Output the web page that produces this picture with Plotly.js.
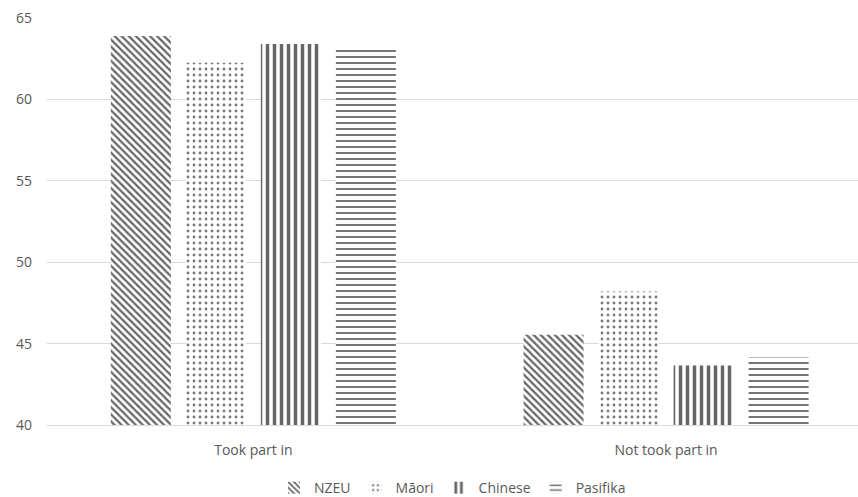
<!DOCTYPE html>
<html><head><meta charset="utf-8">
<script src="https://cdn.plot.ly/plotly-3.0.1.min.js"></script>
<style>body{margin:0;background:#fff}#chart{width:858px;height:497px}</style>
</head><body><div id="chart"></div>
<script>
const categories = ["Took part in", "Not took part in"];
const seriesNames = ["NZEU", "Māori", "Chinese", "Pasifika"];
const nzeu = [63.9, 45.55];
const maori = [62.25, 48.2];
const chinese = [63.4, 43.65];
const pasifika = [63.05, 44.15];
const yTicks = [40, 45, 50, 55, 60, 65];

const values = [nzeu, maori, chinese, pasifika];
const shapes = ["\\", ".", "|", "-"];
const sizes = [5, 6, 7, 6];
const solid = [0.45, 0.18, 0.5, 0.3];
const fg = ["#666666", "#7a7a7a", "#666666", "#666666"];

const traces = seriesNames.map((n, i) => ({
  type: "bar",
  name: n,
  x: categories,
  y: values[i],
  base: 0,
  marker: {
    color: "#ffffff",
    line: {width: 0},
    pattern: {shape: shapes[i], fgcolor: fg[i], bgcolor: "#ffffff", size: sizes[i], solidity: solid[i], fillmode: "replace"}
  },
  hoverinfo: "skip"
}));

const layout = {
  width: 858, height: 497,
  margin: {l: 47, r: 0, t: 18, b: 72, autoexpand: false},
  paper_bgcolor: "#fff", plot_bgcolor: "#fff",
  barmode: "group", bargap: 0.273, bargroupgap: 0.2,
  font: {family: "Open Sans, Liberation Sans, sans-serif", size: 14, color: "#595959"},
  xaxis: {range: [-0.5, 1.465], showgrid: false, showline: true, linecolor: "#d9d9d9", linewidth: 1, ticks: "", ticklabelstandoff: 12, tickfont: {size: 14}},
  yaxis: {range: [40, 65], tickvals: yTicks, showgrid: true, gridcolor: "#d9d9d9", gridwidth: 1, zeroline: false, showline: false, ticks: "", ticklabelstandoff: 14, tickfont: {size: 14}},
  showlegend: true,
  legend: {orientation: "h", x: 0.5, xanchor: "center", y: -0.155, yanchor: "middle", font: {size: 14}, itemwidth: 30, traceorder: "normal"}
};
Plotly.newPlot("chart", traces, layout, {staticPlot: true});
</script></body></html>
